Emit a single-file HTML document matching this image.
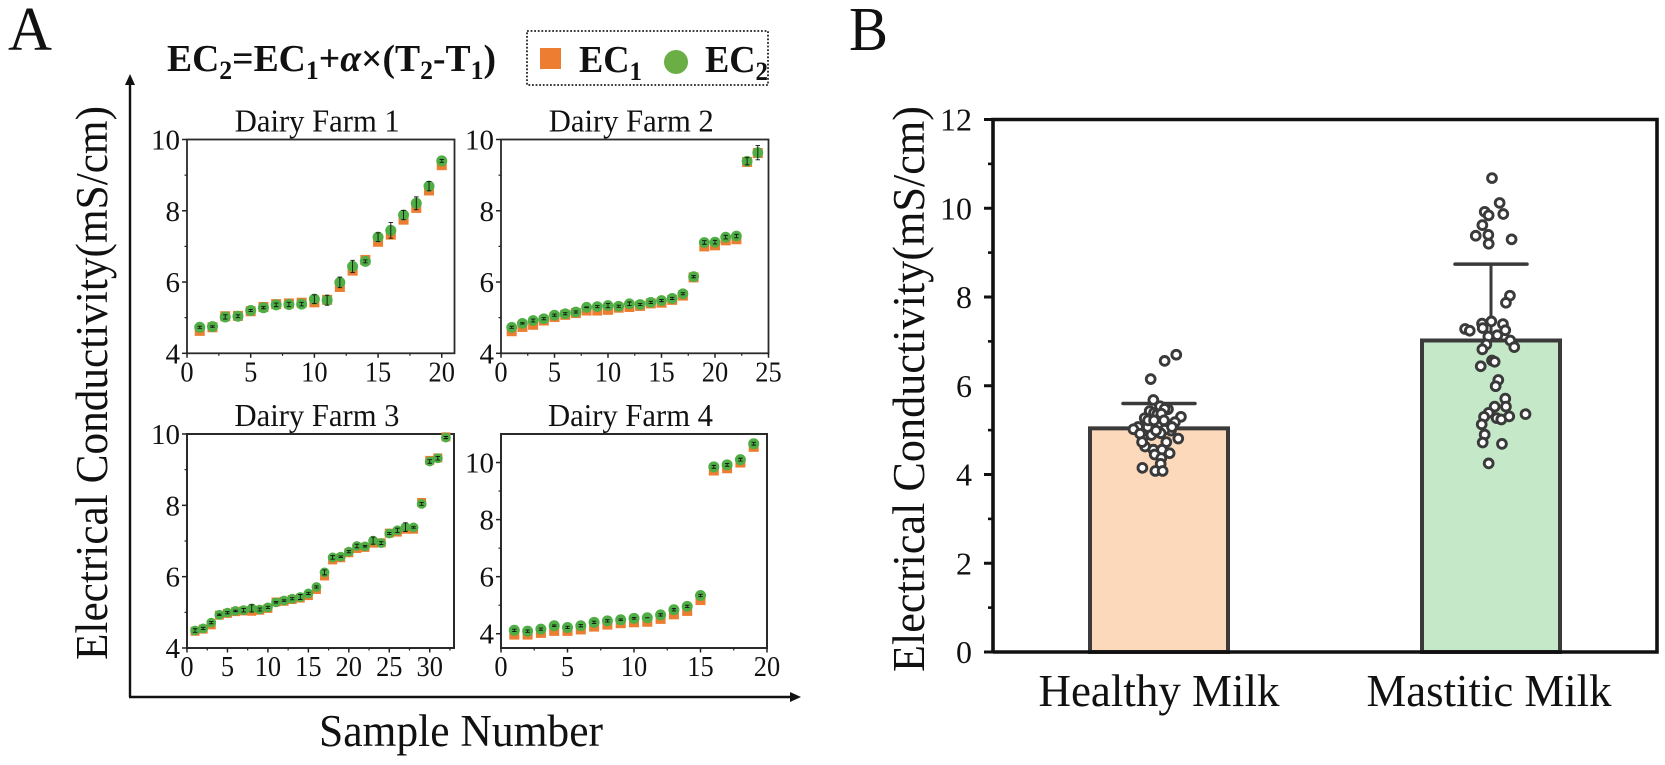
<!DOCTYPE html>
<html lang="en">
<head>
<meta charset="utf-8">
<title>Electrical conductivity of dairy milk samples</title>
<style>
html,body{margin:0;padding:0;background:#fff;}
#figure{display:block;width:1665px;height:765px;font-family:"Liberation Serif",serif;}
text{font-family:"Liberation Serif",serif;fill:#111;}
</style>
</head>
<body>
<svg id="figure" xmlns="http://www.w3.org/2000/svg" width="1665" height="765" viewBox="0 0 1665 765">
  <rect width="1665" height="765" fill="#fff"/>
  <text x="8" y="50" font-size="62" textLength="44" lengthAdjust="spacingAndGlyphs">A</text>
  <text x="849" y="50" font-size="62" textLength="39" lengthAdjust="spacingAndGlyphs">B</text>

  <g font-weight="bold" font-size="38">
    <text x="167" y="71" font-weight="bold" font-size="38" textLength="329" lengthAdjust="spacingAndGlyphs">EC<tspan font-size="26" dy="8">2</tspan><tspan dy="-8">=EC</tspan><tspan font-size="26" dy="8">1</tspan><tspan dy="-8">+</tspan><tspan font-style="italic">α</tspan><tspan>×(T</tspan><tspan font-size="26" dy="8">2</tspan><tspan dy="-8">-T</tspan><tspan font-size="26" dy="8">1</tspan><tspan dy="-8">)</tspan></text>
  </g>

  <g>
    <rect x="527" y="31" width="241" height="54" fill="none" stroke="#222" stroke-width="1.8" stroke-dasharray="1.8 1.8"/>
    <rect x="540" y="48" width="21" height="21" fill="#ed7d31"/>
    <text x="579" y="72" font-weight="bold" font-size="38" textLength="63" lengthAdjust="spacingAndGlyphs">EC<tspan font-size="26" dy="8">1</tspan></text>
    <ellipse cx="676" cy="62" rx="12" ry="12" fill="#6aae45"/>
    <text x="705" y="72" font-weight="bold" font-size="38" textLength="63" lengthAdjust="spacingAndGlyphs">EC<tspan font-size="26" dy="8">2</tspan></text>
  </g>

  <g>
    <line x1="130" y1="82" x2="130" y2="697" stroke="#111" stroke-width="2.4"/>
    <polygon points="130,74 125,85 135,85" fill="#111"/>
    <line x1="129" y1="697" x2="792" y2="697" stroke="#111" stroke-width="2.4"/>
    <polygon points="801,697 790,692 790,702" fill="#111"/>
    <text transform="translate(107,660) rotate(-90)" font-size="45" textLength="554" lengthAdjust="spacingAndGlyphs">Electrical Conductivity(mS/cm)</text>
    <text x="319" y="746" font-size="45" textLength="284" lengthAdjust="spacingAndGlyphs">Sample Number</text>
  </g>

  <g id="panels"></g>
  <g id="barChart"></g>
  <text transform="translate(924,672) rotate(-90)" font-size="46" textLength="566" lengthAdjust="spacingAndGlyphs">Electrical Conductivity(mS/cm)</text>
</svg>

<script>
// ---- Panel A data ----
const farm1Ec1 = [4.63,4.73,5.04,5.05,5.18,5.30,5.38,5.40,5.42,5.43,5.50,5.86,6.32,6.62,7.13,7.33,7.75,8.08,8.57,9.28];
const farm1Ec2 = [4.73,4.75,5.02,5.04,5.20,5.28,5.36,5.37,5.38,5.52,5.49,5.99,6.44,6.58,7.26,7.45,7.88,8.21,8.69,9.40];
const farm1Err = [0.03,0.02,0.06,0.04,0.03,0.03,0.05,0.06,0.05,0.12,0.14,0.15,0.17,0.04,0.12,0.22,0.13,0.18,0.13,0.04];

const farm2Ec1 = [4.62,4.74,4.80,4.92,5.02,5.08,5.13,5.20,5.20,5.22,5.28,5.30,5.33,5.40,5.42,5.50,5.62,6.13,7.00,7.03,7.17,7.20,9.37,9.62];
const farm2Ec2 = [4.73,4.84,4.92,4.97,5.07,5.11,5.16,5.29,5.31,5.34,5.32,5.39,5.37,5.43,5.48,5.54,5.67,6.15,7.11,7.12,7.26,7.29,9.39,9.63];
const farm2Err = [0.03,0.02,0.04,0.03,0.03,0.03,0.03,0.01,0.03,0.06,0.03,0.05,0.03,0.03,0.03,0.03,0.03,0.03,0.05,0.05,0.05,0.05,0.10,0.20];

const farm3Ec1 = [4.47,4.53,4.65,4.92,4.97,5.02,5.04,5.03,5.06,5.11,5.29,5.31,5.36,5.40,5.47,5.64,6.02,6.47,6.53,6.67,6.79,6.82,6.94,6.95,7.22,7.25,7.33,7.33,8.08,9.26,9.33,9.92];
const farm3Ec2 = [4.49,4.55,4.71,4.93,4.99,5.04,5.06,5.11,5.08,5.14,5.28,5.33,5.38,5.43,5.53,5.71,6.12,6.54,6.56,6.70,6.86,6.85,7.01,6.94,7.21,7.30,7.39,7.38,8.04,9.23,9.32,9.90];
const farm3Err = [0.05,0.03,0.03,0.02,0.03,0.02,0.05,0.10,0.04,0.03,0.02,0.02,0.03,0.07,0.03,0.03,0.07,0.05,0.02,0.03,0.05,0.02,0.10,0.04,0.03,0.06,0.12,0.02,0.04,0.05,0.05,0.03];

const farm4Ec1 = [3.97,3.97,4.03,4.10,4.10,4.15,4.25,4.32,4.37,4.40,4.42,4.52,4.68,4.80,5.18,9.72,9.80,10.00,10.55];
const farm4Ec2 = [4.12,4.09,4.16,4.28,4.22,4.28,4.40,4.45,4.49,4.54,4.56,4.66,4.84,4.96,5.34,9.85,9.92,10.10,10.66];
const farm4Err = [0.04,0.04,0.04,0.03,0.04,0.04,0.04,0.04,0.03,0.03,0.00,0.04,0.04,0.04,0.04,0.05,0.05,0.05,0.05];

const farm1XTicks = [0,5,10,15,20];
const farm2XTicks = [0,5,10,15,20,25];
const farm3XTicks = [0,5,10,15,20,25,30];
const farm4XTicks = [0,5,10,15,20];
const farm123YTicks = [4,6,8,10];
const farm4YTicks = [4,6,8,10];

// ---- Panel B data ----
const milkCategories = ['Healthy Milk','Mastitic Milk'];
const milkMeans = [5.04,7.02];
const milkUpperError = [5.60,8.74];
const milkYTicks = [0,2,4,6,8,10,12];
const healthyValues = [6.70,6.56,6.15,5.68,5.54,5.47,5.48,5.43,5.39,5.36,5.37,5.30,5.27,5.18,5.14,5.07,5.07,5.02,4.99,5.01,4.83,4.89,4.93,4.81,4.73,4.63,4.56,4.56,4.48,4.45,4.37,4.24,4.15,4.08,4.08,4.99,4.92,4.73,5.07,5.22,5.22,5.22];
const healthyJitter = [5.2,1.7,-2.5,-1.7,0.3,2.7,1.7,-2.8,-1.5,-0.5,0.7,6.6,-4.3,4.8,-0.2,-3.4,-6.3,-7.7,3.6,1.7,-4.9,-2.3,0.5,5.8,2.2,-4.2,-1.7,0.9,3.2,-1.3,0.7,0.5,-5.0,-1.1,1.1,-0.9,-5.7,-5.1,3.9,-3.3,-1.5,1.5];
const mastiticValues = [10.68,10.12,9.92,9.84,9.87,9.62,9.38,9.40,9.30,9.20,8.03,7.87,7.45,7.40,7.39,7.28,7.24,7.30,7.25,7.11,7.14,7.02,6.93,6.87,6.82,6.57,6.54,6.44,6.13,5.99,5.71,5.53,5.53,5.39,5.30,5.27,5.24,5.31,5.36,5.13,4.90,4.72,4.69,4.25];
const mastiticJitter = [0.3,2.6,-1.9,-0.7,3.7,-2.6,-4.6,-0.8,6.2,-0.7,5.7,4.5,0.1,-2.7,3.6,-7.8,-6.4,-2.5,4.3,-0.8,1.9,5.8,-1.4,7.0,-2.6,0.3,1.1,-3.1,2.2,1.4,4.3,4.5,1.1,-0.7,-2.1,1.7,3.1,5.5,10.4,-2.8,-1.9,-2.5,3.3,-0.7];

const NS = 'http://www.w3.org/2000/svg';
function mk(tag, attrs, parent){
  const el = document.createElementNS(NS, tag);
  for (const k in attrs) el.setAttribute(k, attrs[k]);
  parent.appendChild(el);
  return el;
}
function linear(d0, d1, r0, r1){
  return v => r0 + (v - d0) * (r1 - r0) / (d1 - d0);
}

function drawPanel(root, cfg){
  const g = mk('g', {}, root);
  
  
  const x = linear(0, cfg.xMax, cfg.left, cfg.right);
  const y = linear(cfg.yMin, cfg.yMax, cfg.bottom, cfg.top);

  const frame = mk('rect', {x:cfg.left, y:cfg.top, width:cfg.right-cfg.left, height:cfg.bottom-cfg.top, fill:'none', stroke:'#2a2a2a', 'stroke-width':cfg.frameWidth}, g);
  
  

  const title = mk('text', {x:(cfg.left+cfg.right)/2 - 3.5, y:cfg.top-8, 'text-anchor':'middle', 'font-size':32, textLength:165, lengthAdjust:'spacingAndGlyphs'}, g);
  title.textContent = cfg.title;
  
  

  cfg.xTicks.forEach(function(t){
    const tick = mk('line', {x1:x(t), x2:x(t), y1:cfg.bottom, y2:cfg.bottom+4.5, stroke:'#222', 'stroke-width':1.5}, g);
    
    
    const minorValue = t + 2.5;
    if (minorValue < cfg.xMax){
      const minor = mk('line', {x1:x(minorValue), x2:x(minorValue), y1:cfg.bottom, y2:cfg.bottom+2.5, stroke:'#222', 'stroke-width':1.2}, g);
      
      
    }
    const label = mk('text', {x:x(t), y:cfg.bottom+28, 'text-anchor':'middle', 'font-size':29, textLength:String(t).length * 13.2, lengthAdjust:'spacingAndGlyphs'}, g);
    label.textContent = t;
    
    
  });

  cfg.yTicks.forEach(function(t){
    const tick = mk('line', {x1:cfg.left-5, x2:cfg.left, y1:y(t), y2:y(t), stroke:'#222', 'stroke-width':1.5}, g);
    
    
    const minorValue = t + 1;
    if (minorValue < cfg.yMax && t < 10){
      const minor = mk('line', {x1:cfg.left-2.5, x2:cfg.left, y1:y(minorValue), y2:y(minorValue), stroke:'#222', 'stroke-width':1.2}, g);
      
      
    }
    const label = mk('text', {x:cfg.left-7, y:y(t)+10, 'text-anchor':'end', 'font-size':29}, g);
    label.textContent = t;
    
    
  });

  const half = cfg.square / 2;
  cfg.ec1.forEach(function(v, i){
    const s = mk('rect', {x:x(i+1)-half, y:y(v)-half, width:cfg.square, height:cfg.square, fill:'#ed7d31'}, g);
    
    
  });
  cfg.ec2.forEach(function(v, i){
    const c = mk('circle', {cx:x(i+1), cy:y(v), r:cfg.radius, fill:'#4fae45'}, g);
    
    
  });
  function errorBar(v, e, px, seriesName){
    const p = 'M'+(px-2.2)+' '+y(v+e)+'H'+(px+2.2)+'M'+(px-2.2)+' '+y(v-e)+'H'+(px+2.2)+'M'+px+' '+y(v+e)+'V'+y(v-e);
    const bar = mk('path', {d:p, fill:'none', stroke:'#111', 'stroke-width':0.9}, g);
    
    
  }
  cfg.err.forEach(function(e, i){
    errorBar(cfg.ec2[i], e, x(i+1), 'ec2-error-bar');
  });
}

const panelRoot = document.getElementById('panels');
drawPanel(panelRoot, {name:'dairy-farm-1', title:'Dairy Farm 1', left:187, right:454.5, top:139.5, bottom:353.3, xMax:21, yMin:4, yMax:10, xTicks:farm1XTicks, yTicks:farm123YTicks, ec1:farm1Ec1, ec2:farm1Ec2, err:farm1Err, radius:5.5, square:10, frameWidth:1.8});
drawPanel(panelRoot, {name:'dairy-farm-2', title:'Dairy Farm 2', left:501, right:768.5, top:139.5, bottom:353.3, xMax:25, yMin:4, yMax:10, xTicks:farm2XTicks, yTicks:farm123YTicks, ec1:farm2Ec1, ec2:farm2Ec2, err:farm2Err, radius:5.4, square:10, frameWidth:1.8});
drawPanel(panelRoot, {name:'dairy-farm-3', title:'Dairy Farm 3', left:187, right:454, top:434, bottom:648, xMax:33, yMin:4, yMax:10, xTicks:farm3XTicks, yTicks:farm123YTicks, ec1:farm3Ec1, ec2:farm3Ec2, err:farm3Err, radius:4.9, square:9, frameWidth:2});
drawPanel(panelRoot, {name:'dairy-farm-4', title:'Dairy Farm 4', left:501, right:767, top:434, bottom:648, xMax:20, yMin:3.5, yMax:11, xTicks:farm4XTicks, yTicks:farm4YTicks, ec1:farm4Ec1, ec2:farm4Ec2, err:farm4Err, radius:5.5, square:10, frameWidth:2});

(function drawBars(){
  const root = document.getElementById('barChart');
  const plot = {left:993, right:1657, top:119.5, bottom:652};
  const y = linear(0, 12, plot.bottom, plot.top);
  const cx = linear(0, 1, 1159, 1491);
  const barHalf = 69;
  const capHalf = 36;
  const fills = ['#fdd9bb','#c5e8c8'];
  const dark = '#3a3a3a';

  milkCategories.forEach(function(name, i){
    const stem = mk('line', {x1:cx(i), x2:cx(i), y1:y(milkMeans[i]), y2:y(milkUpperError[i]), stroke:dark, 'stroke-width':3}, root);
    
    
    const cap = mk('line', {x1:cx(i)-capHalf, x2:cx(i)+capHalf, y1:y(milkUpperError[i]), y2:y(milkUpperError[i]), stroke:dark, 'stroke-width':3.5, 'stroke-linecap':'round'}, root);
    
    
    const bar = mk('rect', {x:cx(i)-barHalf, y:y(milkMeans[i]), width:barHalf*2, height:plot.bottom-y(milkMeans[i]), fill:fills[i], stroke:dark, 'stroke-width':4}, root);
    
    
    const label = mk('text', {x:cx(i) - (i === 0 ? 0 : 2), y:706, 'text-anchor':'middle', 'font-size':46, textLength:i === 0 ? 241 : 245, lengthAdjust:'spacingAndGlyphs'}, root);
    label.textContent = name;
    
    
  });

  function dots(values, jitter, cat, dotName){
    values.forEach(function(v, i){
      const c = mk('circle', {cx:cx(cat + jitter[i] / 100), cy:y(v), r:4.4, fill:'#fff', stroke:dark, 'stroke-width':2.9}, root);
      
      
    });
  }
  dots(healthyValues, healthyJitter, 0, 'healthy-sample-point');
  dots(mastiticValues, mastiticJitter, 1, 'mastitic-sample-point');

  const frame = mk('path', {d:'M'+plot.left+' '+plot.bottom+'V'+plot.top+'H'+plot.right+'V'+plot.bottom+'H'+plot.left, fill:'none', stroke:'#111', 'stroke-width':3.6}, root);
  
  

  milkYTicks.forEach(function(t){
    const tick = mk('line', {x1:plot.left-9, x2:plot.left, y1:y(t), y2:y(t), stroke:'#111', 'stroke-width':3}, root);
    
    
    if (t < 12){
      const minor = mk('line', {x1:plot.left-5, x2:plot.left, y1:y(t+1), y2:y(t+1), stroke:'#111', 'stroke-width':2.6}, root);
      
      
    }
    const label = mk('text', {x:972, y:y(t)+11, 'text-anchor':'end', 'font-size':32}, root);
    label.textContent = t;
    
    
  });
})();
</script>
</body>
</html>
